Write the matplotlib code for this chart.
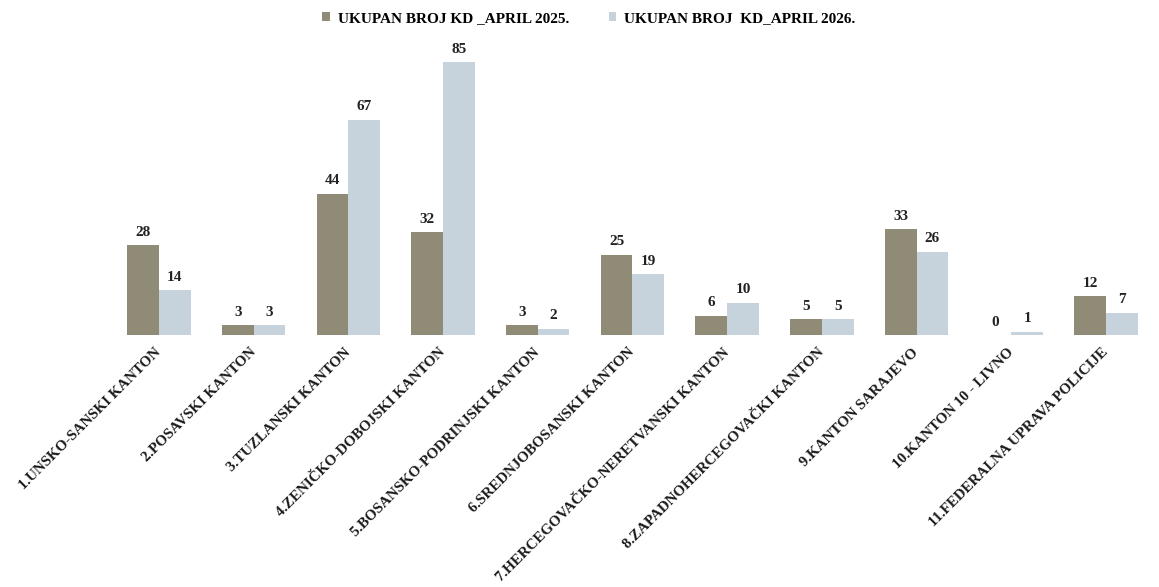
import numpy as np
import matplotlib.pyplot as plt

categories = [
    "1.UNSKO-SANSKI KANTON",
    "2.POSAVSKI KANTON",
    "3.TUZLANSKI KANTON",
    "4.ZENIČKO-DOBOJSKI KANTON",
    "5.BOSANSKO-PODRINJSKI KANTON",
    "6.SREDNJOBOSANSKI KANTON",
    "7.HERCEGOVAČKO-NERETVANSKI KANTON",
    "8.ZAPADNOHERCEGOVAČKI KANTON",
    "9.KANTON SARAJEVO",
    "10.KANTON 10 - LIVNO",
    "11.FEDERALNA UPRAVA POLICIJE",
]
april_2025 = [28, 3, 44, 32, 3, 25, 6, 5, 33, 0, 12]
april_2026 = [14, 3, 67, 85, 2, 19, 10, 5, 26, 1, 7]
series_names = ["UKUPAN BROJ KD _APRIL 2025.", "UKUPAN BROJ  KD_APRIL 2026."]

col_2025 = "#908b76"
col_2026 = "#c6d3dc"
font = "Liberation Serif"

fig = plt.figure(figsize=(11.59, 5.87), dpi=100)
ax = fig.add_axes([0.0963, 0.4293, 0.8988, 0.547])

x = np.arange(len(categories))
w = 0.335
b1 = ax.bar(x - w / 2, april_2025, w, color=col_2025, label=series_names[0])
b2 = ax.bar(x + w / 2, april_2026, w, color=col_2026, label=series_names[1])

for bars in (b1, b2):
    for rect in bars:
        h = rect.get_height()
        ax.text(rect.get_x() + rect.get_width() / 2, h + 2.0, f"{int(h)}",
                ha="center", va="bottom", fontsize=11, fontweight="bold",
                family=font, color="#222222")

ax.set_xlim(-0.5, len(categories) - 0.5)
ax.set_ylim(0, 100)
ax.set_yticks([])
for s in ax.spines.values():
    s.set_visible(False)

ax.set_xticks(x)
ax.set_xticklabels(categories, rotation=45, ha="right", va="center",
                   rotation_mode="anchor", fontsize=10.8, fontweight="bold",
                   family=font, color="#1a1a1a")
ax.tick_params(axis="x", length=0, pad=11)

leg = fig.legend(handles=[b1, b2], labels=series_names, loc="center",
                 bbox_to_anchor=(0.508, 0.969), ncol=2, frameon=False,
                 prop={"family": font, "weight": "bold", "size": 11},
                 handlelength=0.5, handleheight=0.5, handletextpad=0.5,
                 columnspacing=2.6)

fig.savefig("out.png", dpi=100)
